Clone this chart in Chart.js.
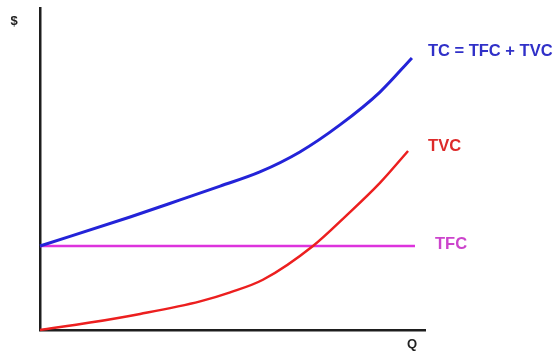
<!DOCTYPE html>
<html>
<head>
<meta charset="utf-8">
<script src="https://cdn.jsdelivr.net/npm/chart.js@4"></script>
<style>
  html, body { margin: 0; padding: 0; background: #fff; }
  #wrap { width: 558px; height: 355px; }
</style>
</head>
<body>
<div id="wrap"><canvas id="costChart"></canvas></div>
<script>
// quantity (Q) and cost ($) readings, both on a 0-100 scale
const tcQ = [0, 23.4, 36.4, 46.8, 57.1, 67.5, 77.9, 88.3, 96.6];
const tcCost = [26.1, 35.1, 40.4, 44.7, 49.1, 55.3, 63.7, 73.9, 84.5];

const tvcQ = [0, 13, 26, 41.6, 49.4, 57.9, 70.9, 79.7, 88.3, 95.6];
const tvcCost = [0, 2.3, 5.0, 8.9, 11.7, 15.6, 26.1, 35.7, 45.7, 55.6];

const tfcQ = [0, 97.4];
const tfcCost = [26.1, 26.1];

const seriesLabels = ["TC = TFC + TVC", "TVC", "TFC"];
const axisLabels = { x: "Q", y: "$" };

const toPoints = (xs, ys) => xs.map((q, i) => ({ x: q, y: ys[i] }));

// names written at the end of each curve
const endLabels = {
    id: "endLabels",
    afterDatasetsDraw(chart) {
        const ctx = chart.ctx;
        const offsets = [[16, -6], [20, -5], [20, -2]];
        ctx.save();
        ctx.font = "bold 16.5px 'Liberation Sans', Arial, sans-serif";
        ctx.textBaseline = "middle";
        ctx.textAlign = "left";
        chart.data.datasets.forEach((ds, i) => {
            const meta = chart.getDatasetMeta(i);
            const last = meta.data[meta.data.length - 1];
            ctx.fillStyle = ds.labelColor;
            ctx.fillText(ds.label, last.x + offsets[i][0], last.y + offsets[i][1]);
        });
        // axis names
        const a = chart.chartArea;
        ctx.fillStyle = "#222";
        ctx.font = "bold 13px 'Liberation Sans', Arial, sans-serif";
        ctx.textAlign = "center";
        ctx.fillText(axisLabels.y, a.left - 26, a.top + 13);
        ctx.fillText(axisLabels.x, a.right - 13, a.bottom + 14);
        ctx.restore();
    }
};

new Chart(document.getElementById("costChart"), {
    type: "line",
    data: {
        datasets: [{
            label: seriesLabels[0],
            data: toPoints(tcQ, tcCost),
            borderColor: "#2323d8",
            labelColor: "#3030c8",
            borderWidth: 3,
            cubicInterpolationMode: "monotone"
        }, {
            label: seriesLabels[1],
            data: toPoints(tvcQ, tvcCost),
            borderColor: "#ec1f1f",
            labelColor: "#dd2a2a",
            borderWidth: 2.5,
            cubicInterpolationMode: "monotone"
        }, {
            label: seriesLabels[2],
            data: toPoints(tfcQ, tfcCost),
            borderColor: "#dd33dd",
            labelColor: "#cc44cc",
            borderWidth: 2.5,
            tension: 0
        }]
    },
    options: {
        responsive: true,
        maintainAspectRatio: false,
        animation: false,
        layout: { padding: { left: 40, top: 8, right: 133, bottom: 25 } },
        elements: { point: { radius: 0 } },
        clip: false,
        plugins: {
            legend: { display: false },
            tooltip: { enabled: false }
        },
        scales: {
            x: {
                type: "linear",
                min: 0,
                max: 100,
                ticks: { display: false },
                grid: { display: false, drawTicks: false },
                border: { color: "#1e1e1e", width: 2.5 }
            },
            y: {
                min: 0,
                max: 100,
                ticks: { display: false },
                grid: { display: false, drawTicks: false },
                border: { color: "#1e1e1e", width: 2.5 }
            }
        }
    },
    plugins: [endLabels]
});
</script>
</body>
</html>
